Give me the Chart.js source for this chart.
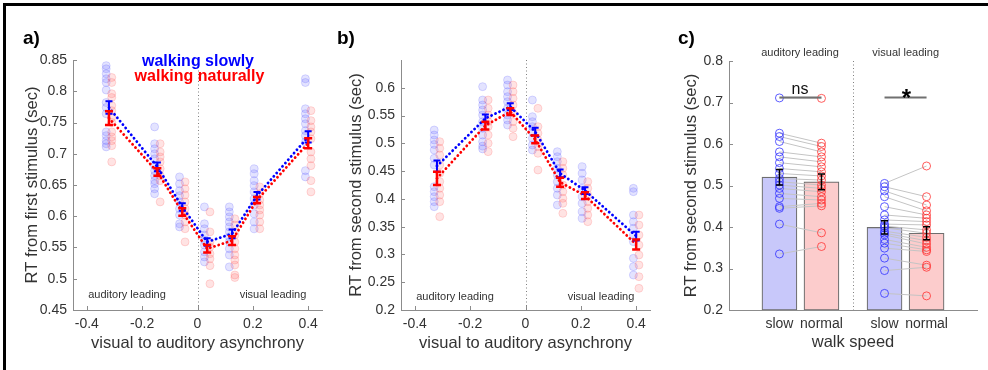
<!DOCTYPE html>
<html>
<head>
<meta charset="utf-8">
<script src="https://cdn.jsdelivr.net/npm/chart.js@4.4.1/dist/chart.umd.min.js"></script>
<style>
  html, body { margin: 0; padding: 0; background: #fff; overflow: hidden; }
  body { width: 988px; height: 370px; position: relative; }
  #frame { position: absolute; left: 3px; top: 3px; width: 1100px; height: 500px;
           border-left: 3px solid #000; border-top: 3px solid #000; }
  canvas { position: absolute; top: 0; }
</style>
</head>
<body>
<div id="frame"></div>
<canvas id="ca" width="330" height="370" style="left:0px"></canvas>
<canvas id="cb" width="330" height="370" style="left:330px"></canvas>
<canvas id="cc" width="328" height="370" style="left:660px"></canvas>
<script>
// asynchrony levels (sec) and tick labels
const asyncX = [-0.32, -0.145, -0.055, 0.035, 0.125, 0.215, 0.4];
const xTicksAB = [-0.4, -0.2, 0, 0.2, 0.4];
const yTicksA = [0.45, 0.5, 0.55, 0.6, 0.65, 0.7, 0.75, 0.8, 0.85];
const yTicksB = [0.2, 0.25, 0.3, 0.35, 0.4, 0.45, 0.5, 0.55, 0.6];
const yTicksC = [0.2, 0.3, 0.4, 0.5, 0.6, 0.7, 0.8];

// a) RT from first stimulus
const aSlowMean = [0.774, 0.679, 0.615, 0.559, 0.572, 0.633, 0.727];
const aSlowSem  = [0.010, 0.007, 0.006, 0.006, 0.007, 0.006, 0.009];
const aNatMean  = [0.757, 0.671, 0.607, 0.548, 0.561, 0.626, 0.717];
const aNatSem   = [0.011, 0.006, 0.006, 0.006, 0.007, 0.005, 0.008];
const aSlowSubj = [
  [0.841, 0.836, 0.828, 0.820, 0.814, 0.802, 0.782, 0.774, 0.764, 0.735, 0.729, 0.721, 0.716, 0.711],
  [0.743, 0.716, 0.708, 0.700, 0.692, 0.681, 0.673, 0.665, 0.657, 0.652, 0.644, 0.636],
  [0.663, 0.652, 0.641, 0.633, 0.623, 0.612, 0.602, 0.588, 0.583],
  [0.615, 0.588, 0.580, 0.570, 0.562, 0.554, 0.543, 0.535, 0.527],
  [0.615, 0.607, 0.599, 0.591, 0.583, 0.575, 0.567, 0.559, 0.548, 0.538, 0.519],
  [0.676, 0.668, 0.657, 0.649, 0.639, 0.628, 0.618, 0.604, 0.591, 0.580],
  [0.820, 0.814, 0.772, 0.764, 0.756, 0.748, 0.737, 0.729, 0.719, 0.673, 0.663]
];
const aNatSubj = [
  [0.822, 0.814, 0.796, 0.790, 0.777, 0.769, 0.758, 0.750, 0.735, 0.727, 0.721, 0.713, 0.687],
  [0.716, 0.703, 0.695, 0.687, 0.676, 0.665, 0.657, 0.623],
  [0.655, 0.644, 0.634, 0.623, 0.612, 0.602, 0.591, 0.580, 0.559],
  [0.607, 0.575, 0.559, 0.551, 0.540, 0.532, 0.521, 0.492],
  [0.596, 0.586, 0.570, 0.559, 0.548, 0.538, 0.530, 0.522, 0.506, 0.502],
  [0.647, 0.636, 0.626, 0.618, 0.610, 0.602, 0.591, 0.580],
  [0.769, 0.753, 0.743, 0.735, 0.724, 0.703, 0.692, 0.681, 0.657, 0.639]
];

// b) RT from second stimulus
const bSlowMean = [0.459, 0.545, 0.566, 0.521, 0.446, 0.415, 0.333];
const bSlowSem  = [0.010, 0.007, 0.006, 0.007, 0.007, 0.006, 0.008];
const bNatMean  = [0.437, 0.532, 0.557, 0.507, 0.430, 0.406, 0.318];
const bNatSem   = [0.012, 0.007, 0.006, 0.007, 0.008, 0.006, 0.009];
const bSlowSubj = [
  [0.524, 0.515, 0.506, 0.498, 0.488, 0.473, 0.461, 0.422, 0.413, 0.404, 0.395, 0.386],
  [0.602, 0.578, 0.569, 0.560, 0.551, 0.539, 0.527, 0.515, 0.503, 0.495, 0.490],
  [0.614, 0.605, 0.593, 0.584, 0.575, 0.563, 0.551, 0.542, 0.533],
  [0.578, 0.548, 0.539, 0.530, 0.521, 0.509, 0.497, 0.488],
  [0.485, 0.476, 0.467, 0.455, 0.443, 0.431, 0.419, 0.407, 0.389],
  [0.458, 0.446, 0.434, 0.419, 0.404, 0.392, 0.377, 0.365],
  [0.419, 0.413, 0.371, 0.359, 0.347, 0.335, 0.323, 0.293, 0.278, 0.263]
];
const bNatSubj = [
  [0.503, 0.491, 0.479, 0.461, 0.446, 0.431, 0.419, 0.407, 0.395, 0.368],
  [0.578, 0.563, 0.551, 0.539, 0.530, 0.515, 0.500, 0.485],
  [0.605, 0.593, 0.581, 0.569, 0.554, 0.539, 0.527, 0.512],
  [0.563, 0.530, 0.518, 0.506, 0.494, 0.482, 0.452],
  [0.467, 0.455, 0.443, 0.425, 0.413, 0.401, 0.392, 0.374],
  [0.431, 0.419, 0.407, 0.395, 0.383, 0.371, 0.359],
  [0.371, 0.353, 0.335, 0.317, 0.299, 0.281, 0.260, 0.239]
];

// c) walk speed bars
const walkCats = ['slow', 'normal', 'slow', 'normal'];
const walkX = [1, 2, 3.5, 4.5];
const cMean = [0.520, 0.509, 0.399, 0.385];
const cSem = [0.0185, 0.019, 0.016, 0.0155];
const cAudSlow = [0.711, 0.626, 0.618, 0.606, 0.581, 0.569, 0.555, 0.541, 0.529, 0.517,
                  0.509, 0.501, 0.493, 0.481, 0.469, 0.449, 0.445, 0.407, 0.335];
const cAudNormal = [0.710, 0.602, 0.594, 0.581, 0.569, 0.557, 0.545, 0.533, 0.523, 0.513,
                    0.501, 0.493, 0.485, 0.473, 0.465, 0.457, 0.451, 0.386, 0.353];
const cVisSlow = [0.505, 0.497, 0.487, 0.473, 0.449, 0.429, 0.417, 0.407, 0.402, 0.398,
                  0.390, 0.385, 0.381, 0.370, 0.361, 0.349, 0.325, 0.295, 0.240];
const cVisNormal = [0.547, 0.473, 0.453, 0.439, 0.429, 0.421, 0.413, 0.405, 0.393, 0.385,
                    0.375, 0.367, 0.359, 0.351, 0.345, 0.341, 0.308, 0.303, 0.234];

const axisGray = '#8c8c8c';
const textCol = '#333333';
const FONT = '"Liberation Sans", Arial, Helvetica, sans-serif';
const BLUE = '#0000ff', RED = '#ff0000';

function dotsData(groups, dx) {
  const out = [];
  groups.forEach((g, i) => g.forEach(v => out.push({x: asyncX[i] + dx, y: v})));
  return out;
}
function lineData(xs, ys) { return xs.map((x, i) => ({x: x, y: ys[i]})); }
function numFmt(v) { return String(Math.round(v * 100) / 100); }

function mkScale(c) {
  return {
    type: 'linear', min: c.min, max: c.max, offset: false,
    grid: {display: false, drawTicks: false, offset: false},
    border: {display: true, color: axisGray, width: 1},
    ticks: {color: textCol, font: {family: FONT, size: 14}, padding: c.tickPad,
            autoSkip: false, maxRotation: 0, callback: c.fmt || numFmt},
    title: {display: true, text: c.title, color: textCol, font: {family: FONT, size: 16.5},
            padding: c.axis === 'x' ? {top: 0, bottom: c.titlePad} : {top: c.titlePad, bottom: 0}},
    afterBuildTicks: s => { s.ticks = c.ticks.map(v => ({value: v})); },
    afterFit: s => { if (c.axis === 'x') s.height = c.size; else s.width = c.size; }
  };
}

// axes decoration, error bars and text labels
function makeDeco(cfg) {
  return {
    id: 'deco',
    beforeDatasetsDraw(chart) {
      const {ctx, chartArea: a, scales: {x, y}} = chart;
      ctx.save();
      ctx.strokeStyle = axisGray; ctx.lineWidth = 1;
      x.ticks.forEach(t => {
        const px = Math.round(x.getPixelForValue(t.value)) + 0.5;
        ctx.beginPath(); ctx.moveTo(px, a.bottom); ctx.lineTo(px, a.bottom - 4); ctx.stroke();
      });
      y.ticks.forEach(t => {
        const py = Math.round(y.getPixelForValue(t.value)) + 0.5;
        ctx.beginPath(); ctx.moveTo(a.left, py); ctx.lineTo(a.left + 4, py); ctx.stroke();
      });
      if (cfg.vline !== undefined) {
        const px = Math.round(x.getPixelForValue(cfg.vline)) + 0.5;
        ctx.strokeStyle = '#808080'; ctx.setLineDash([1, 2.5]);
        ctx.beginPath(); ctx.moveTo(px, a.top); ctx.lineTo(px, a.bottom); ctx.stroke();
      }
      ctx.restore();
    },
    afterDatasetsDraw(chart) {
      const {ctx, scales: {x, y}} = chart;
      ctx.save();
      (cfg.sig || []).forEach(s => {
        ctx.strokeStyle = '#707070'; ctx.lineWidth = 2;
        const py = y.getPixelForValue(s.y);
        ctx.beginPath(); ctx.moveTo(x.getPixelForValue(s.x0), py); ctx.lineTo(x.getPixelForValue(s.x1), py); ctx.stroke();
      });
      (cfg.err || []).forEach(e => {
        ctx.strokeStyle = e.color; ctx.lineWidth = e.lw;
        e.xs.forEach((xv, i) => {
          const px = x.getPixelForValue(xv);
          const p1 = y.getPixelForValue(e.mean[i] + e.sem[i]);
          const p2 = y.getPixelForValue(e.mean[i] - e.sem[i]);
          ctx.beginPath();
          ctx.moveTo(px, p1); ctx.lineTo(px, p2);
          ctx.moveTo(px - e.cap / 2, p1); ctx.lineTo(px + e.cap / 2, p1);
          ctx.moveTo(px - e.cap / 2, p2); ctx.lineTo(px + e.cap / 2, p2);
          ctx.stroke();
        });
      });
      ctx.restore();
    },
    afterDraw(chart) {
      const ctx = chart.ctx;
      ctx.save();
      (cfg.texts || []).forEach(t => {
        ctx.font = t.font + ' ' + FONT;
        ctx.fillStyle = t.color || textCol;
        ctx.textAlign = t.align || 'center';
        ctx.textBaseline = 'alphabetic';
        ctx.fillText(t.t, t.x, t.y);
      });
      ctx.restore();
    }
  };
}

function abChart(id, slowSubj, natSubj, slowMean, slowSem, natMean, natSem, yMin, yMax, yTicks, yTitle, lay, texts) {
  return new Chart(document.getElementById(id), {
    type: 'scatter',
    data: {
      datasets: [
        {type: 'line', data: lineData(asyncX, natMean), borderColor: RED, borderWidth: 2.8,
         borderDash: [0.1, 4.3], borderCapStyle: 'round', pointRadius: 0, order: 1},
        {type: 'line', data: lineData(asyncX, slowMean), borderColor: BLUE, borderWidth: 2.8,
         borderDash: [0.1, 4.3], borderCapStyle: 'round', pointRadius: 0, order: 2},
        {data: dotsData(natSubj, 0.01), pointRadius: 4, backgroundColor: 'rgba(255,80,80,0.16)',
         borderColor: 'rgba(255,80,80,0.2)', borderWidth: 1, order: 3},
        {data: dotsData(slowSubj, -0.01), pointRadius: 4, backgroundColor: 'rgba(80,80,255,0.16)',
         borderColor: 'rgba(80,80,255,0.2)', borderWidth: 1, order: 4}
      ]
    },
    options: {
      responsive: false, animation: false, devicePixelRatio: 1, events: [],
      layout: {padding: {left: 0, right: lay.right, top: lay.top, bottom: 0}},
      plugins: {legend: {display: false}, tooltip: {enabled: false}},
      scales: {
        x: mkScale({axis: 'x', min: -0.45, max: 0.45, ticks: xTicksAB, title: 'visual to auditory asynchrony',
                    titlePad: 17.1, size: 60, tickPad: 6}),
        y: mkScale({axis: 'y', min: yMin, max: yMax, ticks: yTicks, title: yTitle,
                    titlePad: lay.titleX - 9.9, size: lay.left, tickPad: 6})
      }
    },
    plugins: [makeDeco({
      vline: 0,
      err: [
        {xs: asyncX, mean: slowMean, sem: slowSem, color: BLUE, lw: 2, cap: 7},
        {xs: asyncX, mean: natMean, sem: natSem, color: RED, lw: 2.5, cap: 8}
      ],
      texts: texts
    })]
  });
}

abChart('ca', aSlowSubj, aNatSubj, aSlowMean, aSlowSem, aNatMean, aNatSem, 0.45, 0.85, yTicksA,
  'RT from first stimulus (sec)', {left: 73, right: 8, top: 60, titleX: 32}, [
    {t: 'a)', x: 23, y: 44, font: 'bold 19px', color: '#000', align: 'left'},
    {t: 'walking slowly', x: 198, y: 66, font: 'bold 16px', color: BLUE},
    {t: 'walking naturally', x: 199.5, y: 81, font: 'bold 16px', color: RED},
    {t: 'auditory leading', x: 127, y: 298, font: '11px'},
    {t: 'visual leading', x: 273, y: 298, font: '11px'}
  ]);

abChart('cb', bSlowSubj, bNatSubj, bSlowMean, bSlowSem, bNatMean, bNatSem, 0.2, 0.65, yTicksB,
  'RT from second stimulus (sec)', {left: 71, right: 10, top: 60, titleX: 26.7}, [
    {t: 'b)', x: 7, y: 44, font: 'bold 19px', color: '#000', align: 'left'},
    {t: 'auditory leading', x: 125, y: 300, font: '11px'},
    {t: 'visual leading', x: 271, y: 300, font: '11px'}
  ]);

// c) bars with paired subject lines
const pairSets = [];
[[cAudSlow, cAudNormal, 0], [cVisSlow, cVisNormal, 2]].forEach(([s, n, k]) => {
  s.forEach((v, i) => pairSets.push({
    type: 'line', data: [{x: walkX[k], y: v}, {x: walkX[k + 1], y: n[i]}],
    borderColor: '#c4c4c4', borderWidth: 1, pointRadius: 0, order: 3
  }));
});
function circles(vals, xv, col) {
  return {type: 'scatter', data: vals.map(v => ({x: xv, y: v})), pointRadius: 4, borderWidth: 1,
          backgroundColor: 'rgba(0,0,0,0)', borderColor: col, order: 2};
}

new Chart(document.getElementById('cc'), {
  type: 'bar',
  data: {
    datasets: [
      circles(cAudSlow, walkX[0], 'rgba(40,40,255,0.75)'),
      circles(cAudNormal, walkX[1], 'rgba(255,40,40,0.75)'),
      circles(cVisSlow, walkX[2], 'rgba(40,40,255,0.75)'),
      circles(cVisNormal, walkX[3], 'rgba(255,40,40,0.75)'),
      ...pairSets,
      {type: 'bar', data: walkX.map((x, i) => ({x: x, y: cMean[i]})), base: 0.2, barThickness: 35,
       backgroundColor: ['#c8c8fa', '#fccccc', '#c8c8fa', '#fccccc'], borderColor: '#6e6e6e',
       borderWidth: 1.2, borderSkipped: false, order: 5}
    ]
  },
  options: {
    responsive: false, animation: false, devicePixelRatio: 1, events: [],
    layout: {padding: {left: 0, right: 11, top: 61, bottom: 0}},
    plugins: {legend: {display: false}, tooltip: {enabled: false}},
    scales: {
      x: mkScale({axis: 'x', min: -0.2, max: 5.7, ticks: walkX, title: 'walk speed', titlePad: 18.1,
                  size: 60, tickPad: 6, fmt: (v, i) => walkCats[i]}),
      y: mkScale({axis: 'y', min: 0.2, max: 0.8, ticks: yTicksC, title: 'RT from second stimulus (sec)',
                  titlePad: 21.8, size: 69, tickPad: 6})
    }
  },
  plugins: [makeDeco({
    vline: 2.75,
    sig: [{x0: walkX[0], x1: walkX[1], y: 0.712}, {x0: walkX[2], x1: walkX[3], y: 0.712}],
    err: [{xs: walkX, mean: cMean, sem: cSem, color: '#000', lw: 1.5, cap: 7}],
    texts: [
      {t: 'c)', x: 18, y: 44, font: 'bold 19px', color: '#000', align: 'left'},
      {t: 'auditory leading', x: 140, y: 56, font: '11px'},
      {t: 'visual leading', x: 245.7, y: 56, font: '11px'},
      {t: 'ns', x: 140, y: 94, font: '16px', color: '#111'},
      {t: '*', x: 246.5, y: 106, font: 'bold 24px', color: '#000'}
    ]
  })]
});
</script>
</body>
</html>
